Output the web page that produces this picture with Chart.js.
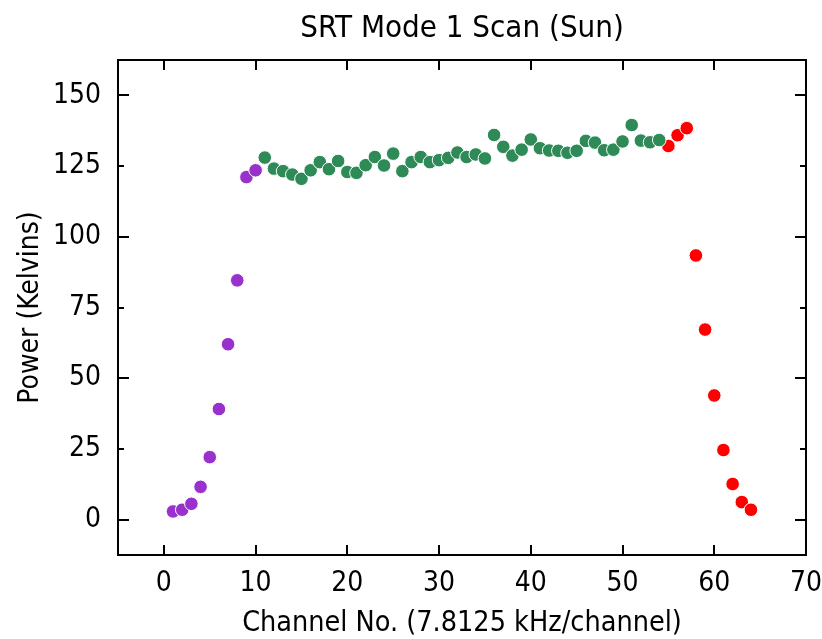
<!DOCTYPE html>
<html>
<head>
<meta charset="utf-8">
<script src="https://cdn.jsdelivr.net/npm/chart.js@4"></script>
<style>
  html, body { margin: 0; padding: 0; background: #fff; }
  #wrap { width: 822px; height: 639px; }
</style>
</head>
<body>
<div id="wrap"><canvas id="c" width="822" height="639"></canvas></div>
<script>
// channels 1-10 (rising edge), 11-54 (on source), 55-64 (falling edge)
const risingChannels = [1, 2, 3, 4, 5, 6, 7, 8, 9, 10];
const risingPower    = [2.9, 3.5, 5.6, 11.6, 22.1, 39.1, 62.0, 84.6, 121.1, 123.5];

const flatChannels = [11, 12, 13, 14, 15, 16, 17, 18, 19, 20, 21, 22, 23, 24, 25, 26, 27, 28, 29, 30, 31, 32,
                      33, 34, 35, 36, 37, 38, 39, 40, 41, 42, 43, 44, 45, 46, 47, 48, 49, 50, 51, 52, 53, 54];
const flatPower    = [128.0, 124.1, 123.2, 122.0, 120.5, 123.5, 126.4, 123.9, 126.8, 122.9, 122.6, 125.3,
                      128.2, 125.2, 129.4, 123.2, 126.4, 128.2, 126.4, 127.1, 127.9, 129.8, 128.2, 129.1,
                      127.7, 136.0, 131.8, 128.7, 130.8, 134.4, 131.3, 130.5, 130.4, 129.7, 130.4, 133.9,
                      133.3, 130.6, 130.8, 133.7, 139.5, 134.0, 133.4, 134.2];

const fallingChannels = [55, 56, 57, 58, 59, 60, 61, 62, 63, 64];
const fallingPower    = [132.1, 135.9, 138.4, 93.4, 67.2, 43.9, 24.6, 12.6, 6.2, 3.5];

const xTicks = [0, 10, 20, 30, 40, 50, 60, 70];
const yTicks = [0, 25, 50, 75, 100, 125, 150];

const FONT = "'Liberation Sans Narrow', 'DejaVu Sans Condensed', 'Liberation Sans', sans-serif";

const toPoints = (xs, ys) => xs.map((x, i) => ({ x: x, y: ys[i] }));

// gnuplot style frame: box with inward ticks on all four sides
const framePlugin = {
    id: "frame",
    beforeDatasetsDraw(chart) {
        const { ctx, chartArea: a, scales } = chart;
        ctx.save();
        ctx.strokeStyle = "#000";
        ctx.lineWidth = 2;
        ctx.strokeRect(a.left, a.top, a.right - a.left, a.bottom - a.top);
        ctx.beginPath();
        xTicks.forEach(v => {
            const px = Math.round(scales.x.getPixelForValue(v));
            ctx.moveTo(px, a.bottom); ctx.lineTo(px, a.bottom - 10);
            ctx.moveTo(px, a.top);    ctx.lineTo(px, a.top + 10);
        });
        yTicks.forEach(v => {
            const py = Math.round(scales.y.getPixelForValue(v));
            const len = v % 50 === 0 ? 11 : 6;
            ctx.moveTo(a.left, py);  ctx.lineTo(a.left + len, py);
            ctx.moveTo(a.right, py); ctx.lineTo(a.right - len, py);
        });
        ctx.stroke();
        ctx.restore();
    }
};

const pointStyle = color => ({
    showLine: false,
    backgroundColor: color,
    borderColor: "#fff",
    pointBackgroundColor: color,
    pointBorderColor: "#fff",
    pointBorderWidth: 1,
    pointRadius: 6.8,
    pointHoverRadius: 6.8,
});

new Chart(document.getElementById("c"), {
    type: "scatter",
    data: {
        datasets: [
            { label: "on source", data: toPoints(flatChannels, flatPower), ...pointStyle("#2e8b57") },
            { label: "rising", data: toPoints(risingChannels, risingPower), ...pointStyle("#9932cc") },
            { label: "falling", data: toPoints(fallingChannels, fallingPower), ...pointStyle("#ff0000") },
        ]
    },
    options: {
        responsive: false,
        animation: false,
        layout: { padding: { left: 0, right: 16, top: 0, bottom: 0 } },
        plugins: {
            legend: { display: false },
            tooltip: { enabled: false },
            title: {
                display: true,
                fullSize: false,
                text: "SRT Mode 1 Scan (Sun)",
                color: "#000",
                font: { family: FONT, size: 31, weight: "normal", lineHeight: 1.2 },
                padding: { top: 10, bottom: 12.8 }
            }
        },
        scales: {
            x: {
                type: "linear",
                min: -5,
                max: 70,
                afterBuildTicks: s => { s.ticks = xTicks.map(v => ({ value: v })); },
                afterFit: s => { s.height = 84; s.paddingLeft = 0; s.paddingRight = 0; },
                grid: { display: false, drawTicks: false },
                border: { display: false },
                ticks: { color: "#000", padding: 12, font: { family: FONT, size: 28 } },
                title: {
                    display: true,
                    text: "Channel No. (7.8125 kHz/channel)",
                    color: "#000",
                    font: { family: FONT, size: 28.5 },
                    padding: { top: 0, bottom: -2 }
                }
            },
            y: {
                type: "linear",
                min: -12.5,
                max: 162.5,
                afterBuildTicks: s => { s.ticks = yTicks.map(v => ({ value: v })); },
                afterFit: s => { s.width = 118; s.paddingTop = 0; s.paddingBottom = 0; },
                grid: { display: false, drawTicks: false },
                border: { display: false },
                ticks: { color: "#000", padding: 17, font: { family: FONT, size: 28 } },
                title: {
                    display: true,
                    text: "Power (Kelvins)",
                    color: "#000",
                    font: { family: FONT, size: 28 },
                    padding: { top: 14, bottom: 0 }
                }
            }
        }
    },
    plugins: [framePlugin]
});
</script>
</body>
</html>
